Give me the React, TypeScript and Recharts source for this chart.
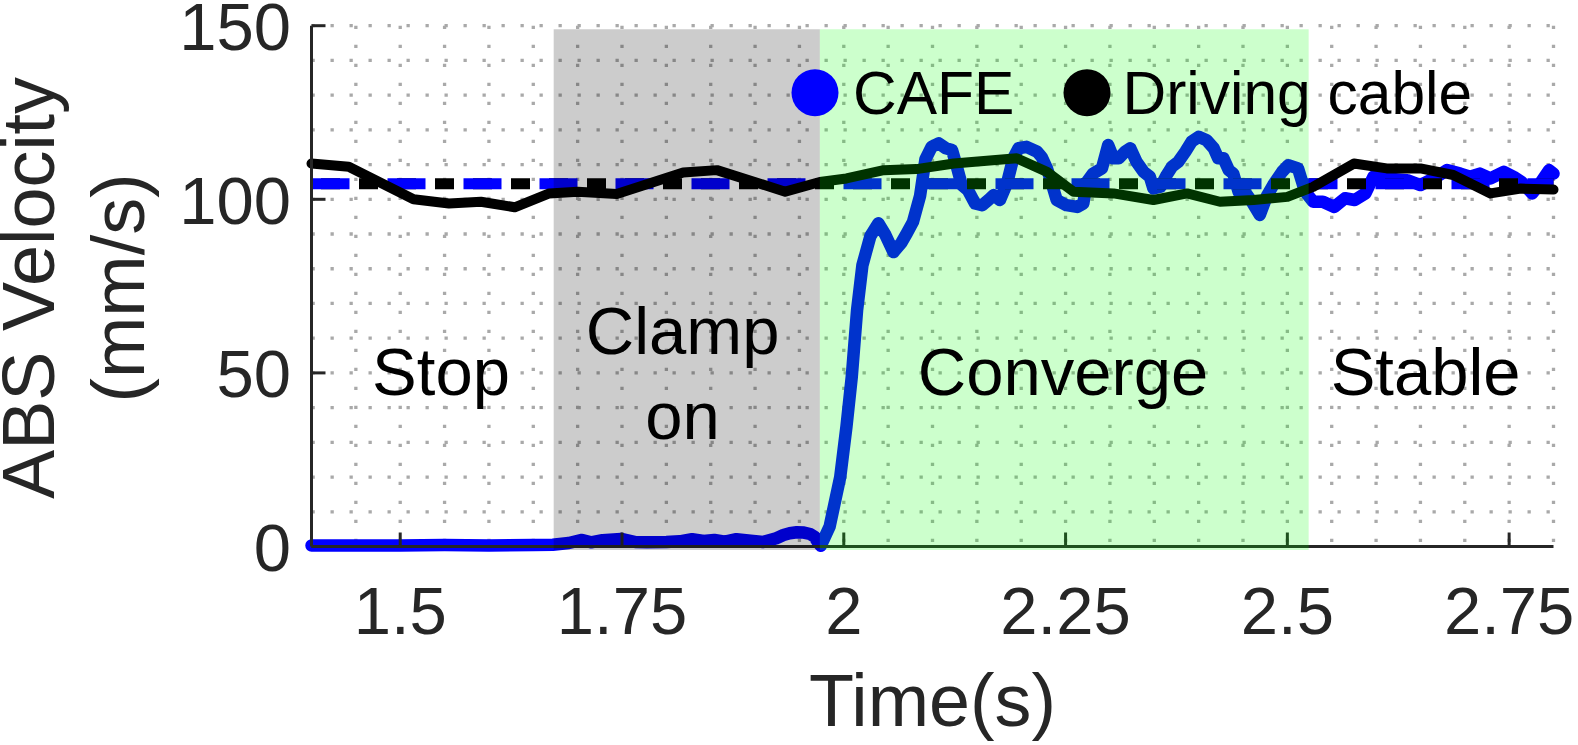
import React from 'react';
import {
  LineChart,
  Line,
  XAxis,
  YAxis,
  CartesianGrid,
  ReferenceArea,
  ReferenceDot,
  Legend,
} from 'recharts';

const W = 1578;
const H = 745;
const FONT = "'Liberation Sans', Arial, Helvetica, sans-serif";
const AXIS_COLOR = '#262626';
const MARGIN = { top: 25.7, right: 24.5, left: 11.5, bottom: 8.5 };
const Y_AXIS_WIDTH = 300;
const X_AXIS_HEIGHT = 190;

// ---- data ----
const cafeTime = [
  1.4, 1.45, 1.5, 1.55, 1.6, 1.65, 1.672, 1.69, 1.705, 1.715, 1.728, 1.749, 1.765, 1.778, 1.8,
  1.815, 1.829, 1.842, 1.854, 1.866, 1.879, 1.895, 1.909, 1.924, 1.932, 1.939, 1.947, 1.955,
  1.962, 1.967, 1.971, 1.974, 1.984, 1.996, 2.003, 2.009, 2.015, 2.021, 2.03, 2.039, 2.047,
  2.056, 2.065, 2.071, 2.078, 2.086, 2.092, 2.099, 2.107, 2.115, 2.122, 2.127, 2.133, 2.14,
  2.148, 2.156, 2.163, 2.169, 2.176, 2.184, 2.191, 2.197, 2.206, 2.218, 2.223, 2.229, 2.235,
  2.24, 2.251, 2.263, 2.27, 2.274, 2.281, 2.291, 2.298, 2.304, 2.31, 2.317, 2.323, 2.33, 2.338,
  2.345, 2.349, 2.357, 2.364, 2.37, 2.377, 2.385, 2.392, 2.4, 2.409, 2.417, 2.422, 2.428, 2.434,
  2.439, 2.445, 2.452, 2.46, 2.469, 2.477, 2.484, 2.494, 2.501, 2.512, 2.52, 2.529, 2.54, 2.553,
  2.565, 2.576, 2.588, 2.597, 2.612, 2.635, 2.65, 2.665, 2.68, 2.695, 2.706, 2.717, 2.729, 2.744,
  2.755, 2.764, 2.776, 2.785, 2.795, 2.8,
];
const cafeVelocity = [
  0.3, 0.3, 0.3, 0.4, 0.3, 0.4, 0.5, 1.0, 1.9, 1.2, 1.8, 2.2, 1.3, 1.2, 1.3,
  1.5, 2.1, 1.6, 1.9, 1.4, 2.1, 1.7, 1.3, 2.4, 3.3, 3.8, 4.1, 4.0,
  3.6, 2.8, 1.2, 0.2, 5.7, 20, 34.5, 48.9, 68.1, 81, 89.4, 93.1, 89.7,
  84.8, 87.5, 90.2, 93.5, 101, 111.5, 115.1, 116.1, 114.7, 114.2, 109.8, 104.1, 102.6,
  98.8, 98.3, 99.8, 101.2, 99.8, 104.6, 111.8, 114.7, 115.1, 113.7, 112.2, 108.9, 104.1,
  99.8, 98.3, 97.8, 98.8, 105, 107.4, 108.9, 115.6, 111.8, 111.8, 113.7, 114.7, 110.8, 107.9,
  106.5, 103.1, 103.6, 107, 109.4, 110.8, 113.7, 116.6, 118, 117, 114.7, 111.8, 111.8, 108.4,
  107.4, 102.2, 102.2, 99.3, 95.5, 101, 104.1, 107.9, 109.8, 108.9, 102.2, 99.3, 99.3, 97.8,
  100.3, 99.8, 101.7, 106.5, 106.0, 105.5, 104.1, 106, 108.4, 107.4, 106.5, 107.4, 106, 107.9,
  106.5, 105, 101.7, 104.6, 108.4, 107.4,
];
const cableTime = [
  1.4, 1.442, 1.515, 1.555, 1.591, 1.629, 1.668, 1.7, 1.744, 1.819, 1.857, 1.934, 1.973, 2.003,
  2.045, 2.082, 2.124, 2.195, 2.229, 2.259, 2.304, 2.349, 2.387, 2.424, 2.462, 2.5, 2.529,
  2.575, 2.612, 2.65, 2.687, 2.729, 2.763, 2.8,
];
const cableVelocity = [
  110.3, 109.4, 100, 98.8, 99.3, 97.7, 101.7, 102.2, 101.5, 107.7, 108.4, 102.2, 105, 106,
  108.4, 108.7, 110.3, 111.8, 107.9, 102.2, 101.7, 99.8, 101.7, 99.3, 99.8, 100.7, 103.6,
  110.3, 108.9, 108.9, 107, 101.7, 103.1, 102.8,
];
const targetTime = [1.4, 2.8];
const cafeTargetVelocity = [104.5, 104.5];
const cableTargetVelocity = [104.5, 104.5];

const xTicks = [1.5, 1.75, 2, 2.25, 2.5, 2.75];
const xTickLabels = ['1.5', '1.75', '2', '2.25', '2.5', '2.75'];
const yTicks = [0, 50, 100, 150];
const yTickLabels = ['0', '50', '100', '150'];
const xGridValues = [
  1.45, 1.5, 1.55, 1.6, 1.65, 1.7, 1.75, 1.8, 1.85, 1.9, 1.95, 2, 2.05, 2.1, 2.15, 2.2, 2.25,
  2.3, 2.35, 2.4, 2.45, 2.5, 2.55, 2.6, 2.65, 2.7, 2.75, 2.8,
];
const yGridValues = [10, 20, 30, 40, 50, 60, 70, 80, 90, 100, 110, 120, 130, 140, 150];

const phaseStart = [1.673, 1.973];
const phaseEnd = [1.973, 2.524];
const phaseColor = ['#000000', '#00ff00'];
const phaseTop = 149;

const phaseLabelText = ['Stop', 'Clamp', 'on', 'Converge', 'Stable'];
const phaseLabelTime = [1.546, 1.8183, 1.8183, 2.2472, 2.6559];
const phaseLabelBaseline = [43.6, 55.4, 31.0, 43.6, 43.6];

const legendNames = ['CAFE', 'Driving cable'];
const legendColors = ['#0000ff', '#000000'];

const toRows = (ts: number[], vs: number[]) => ts.map((t, i) => ({ t, v: vs[i] }));
const cafeData = toRows(cafeTime, cafeVelocity);
const cableData = toRows(cableTime, cableVelocity);
const cafeTargetData = toRows(targetTime, cafeTargetVelocity);
const cableTargetData = toRows(targetTime, cableTargetVelocity);

// ---- ticks ----
const XTick = (props: any) => {
  const { x, y, payload } = props;
  const i = xTicks.indexOf(payload.value);
  return (
    <g>
      <line x1={x} y1={y} x2={x} y2={y - 14} stroke={AXIS_COLOR} strokeWidth={3} />
      <text x={x} y={y + 87.5} textAnchor="middle" fontSize={67} fontFamily={FONT} fill={AXIS_COLOR}>
        {i >= 0 ? xTickLabels[i] : String(payload.value)}
      </text>
    </g>
  );
};

const YTick = (props: any) => {
  const { x, y, payload } = props;
  const i = yTicks.indexOf(payload.value);
  return (
    <g>
      <line x1={x} y1={y} x2={x + 14} y2={y} stroke={AXIS_COLOR} strokeWidth={3} />
      <text x={x - 20.5} y={y + 24.5} textAnchor="end" fontSize={67} fontFamily={FONT} fill={AXIS_COLOR}>
        {i >= 0 ? yTickLabels[i] : String(payload.value)}
      </text>
    </g>
  );
};

const XTitle = (props: any) => {
  const vb = props.viewBox || { x: 311.5, y: 546.5, width: 1242, height: 190 };
  return (
    <text
      x={vb.x + vb.width / 2}
      y={vb.y + 179.2}
      textAnchor="middle"
      fontSize={73.7}
      fontFamily={FONT}
      fill={AXIS_COLOR}
    >
      Time(s)
    </text>
  );
};

const YTitle = (props: any) => {
  const vb = props.viewBox || { x: 11.5, y: 25.7, width: 300, height: 520.8 };
  const cx = vb.x + 42.5;
  const cy = vb.y + vb.height / 2 + 1.9;
  return (
    <text
      transform={`translate(${cx}, ${cy}) rotate(-90)`}
      textAnchor="middle"
      fontSize={73.7}
      fontFamily={FONT}
      fill={AXIS_COLOR}
    >
      <tspan x={0} dy={0}>ABS Velocity</tspan>
      <tspan x={0} dy={90}>(mm/s)</tspan>
    </text>
  );
};

const PhaseText = (text: string) => (props: any) => {
  const vb = props.viewBox || { x: 0, y: 0, width: 0, height: 0 };
  return (
    <text
      x={vb.x + vb.width / 2}
      y={vb.y + vb.height / 2}
      textAnchor="middle"
      fontSize={67}
      fontFamily={FONT}
      fill="#000000"
    >
      {text}
    </text>
  );
};

const legendDotX = [815, 1087];
const legendTextX = [853, 1122.5];

const LegendLayer = () => (
  <div style={{ position: 'relative', width: 0, height: 0 }}>
    <svg
      width={W}
      height={H}
      style={{ position: 'absolute', left: 0, top: 0, overflow: 'visible', pointerEvents: 'none' }}
    >
      {legendNames.map((name, i) => (
        <g key={name}>
          <circle cx={legendDotX[i]} cy={92.7} r={23.5} fill={legendColors[i]} />
          <text x={legendTextX[i]} y={114} fontSize={60.5} fontFamily={FONT} fill="#000000">
            {name}
          </text>
        </g>
      ))}
    </svg>
  </div>
);

export default function App() {
  return (
    <div style={{ position: 'absolute', left: 0, top: 0, width: W, height: H, background: '#ffffff' }}>
      {/* base layer: grid, axes, series */}
      <div style={{ position: 'absolute', left: 0, top: 0 }}>
        <LineChart width={W} height={H} margin={MARGIN}>
          <CartesianGrid
            horizontalValues={yGridValues}
            verticalValues={xGridValues}
            stroke="#a9a9a9"
            strokeWidth={3.3}
            strokeDasharray="3.3 15.7"
          />
          <XAxis
            type="number"
            dataKey="t"
            domain={[1.4, 2.8]}
            ticks={xTicks}
            interval={0}
            height={X_AXIS_HEIGHT}
            tickSize={0}
            tickMargin={0}
            tickLine={false}
            tick={<XTick />}
            axisLine={{ stroke: AXIS_COLOR, strokeWidth: 3 }}
            label={XTitle}
          />
          <YAxis
            type="number"
            dataKey="v"
            domain={[0, 150]}
            ticks={yTicks}
            interval={0}
            width={Y_AXIS_WIDTH}
            tickSize={0}
            tickMargin={0}
            tickLine={false}
            tick={<YTick />}
            axisLine={{ stroke: AXIS_COLOR, strokeWidth: 3 }}
            label={YTitle}
          />
          <Line
            data={cafeData}
            dataKey="v"
            name="CAFE"
            type="linear"
            stroke="#0000ff"
            strokeWidth={12.5}
            strokeLinejoin="round"
            strokeLinecap="round"
            dot={false}
            isAnimationActive={false}
          />
          <Line
            data={cableTargetData}
            dataKey="v"
            name="Driving cable target"
            type="linear"
            stroke="#000000"
            strokeWidth={11}
            strokeDasharray="19 19"
            strokeDashoffset={28.5}
            dot={false}
            isAnimationActive={false}
            legendType="none"
          />
          <Line
            data={cafeTargetData}
            dataKey="v"
            name="CAFE target"
            type="linear"
            stroke="#0000ff"
            strokeWidth={11}
            strokeDasharray="38 38"
            dot={false}
            isAnimationActive={false}
            legendType="none"
          />
          <Line
            data={cableData}
            dataKey="v"
            name="Driving cable"
            type="linear"
            stroke="#000000"
            strokeWidth={10}
            strokeLinejoin="round"
            strokeLinecap="round"
            dot={false}
            isAnimationActive={false}
          />
        </LineChart>
      </div>
      {/* overlay layer: translucent phase areas, phase labels, legend */}
      <div style={{ position: 'absolute', left: 0, top: 0, pointerEvents: 'none' }}>
        <LineChart width={W} height={H} margin={MARGIN} data={cafeTargetData}>
          <XAxis
            type="number"
            dataKey="t"
            domain={[1.4, 2.8]}
            allowDataOverflow
            height={X_AXIS_HEIGHT}
            tick={false}
            tickLine={false}
            axisLine={false}
          />
          <YAxis
            type="number"
            domain={[0, 150]}
            allowDataOverflow
            width={Y_AXIS_WIDTH}
            tick={false}
            tickLine={false}
            axisLine={false}
          />
          <Line
            dataKey="v"
            name="CAFE"
            stroke="#0000ff"
            strokeOpacity={0}
            strokeWidth={0}
            dot={false}
            isAnimationActive={false}
          />
          {phaseStart.map((s, i) => (
            <ReferenceArea
              key={`phase-${i}`}
              x1={s}
              x2={phaseEnd[i]}
              y1={-1}
              y2={phaseTop}
              fill={phaseColor[i]}
              fillOpacity={0.2}
              stroke="none"
              ifOverflow="visible"
            />
          ))}
          {phaseLabelText.map((txt, i) => (
            <ReferenceDot
              key={`lbl-${i}`}
              x={phaseLabelTime[i]}
              y={phaseLabelBaseline[i]}
              r={1}
              fill="none"
              stroke="none"
              ifOverflow="visible"
              label={PhaseText(txt)}
            />
          ))}
          <Legend
            content={() => <LegendLayer />}
            verticalAlign="top"
            wrapperStyle={{ left: 0, top: 0, width: 0, height: 0, overflow: 'visible', padding: 0, margin: 0 }}
          />
        </LineChart>
      </div>
    </div>
  );
}
